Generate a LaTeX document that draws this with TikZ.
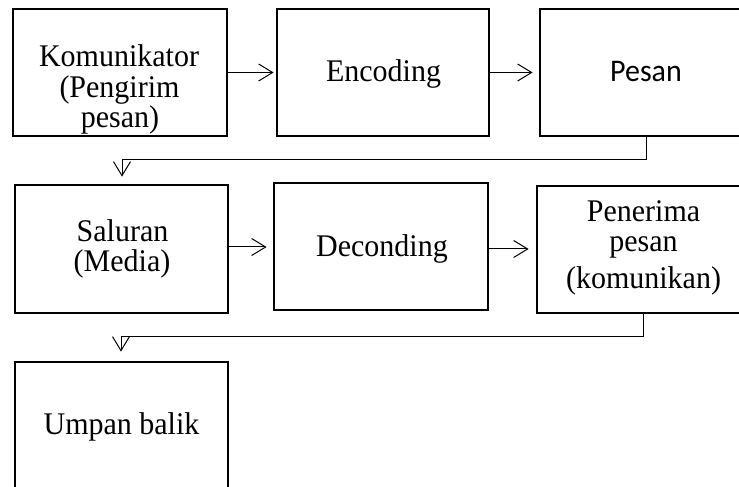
\documentclass[tikz,border=0pt]{standalone}
\usepackage{fontspec}
\setmainfont{Liberation Serif}
\newfontfamily\calfont{Carlito}
\usetikzlibrary{arrows.meta}
\newcommand{\vstr}[1]{\scalebox{1}[1.05]{#1}}
\begin{document}
\begin{tikzpicture}[x=1pt,y=1pt,
  box/.style={draw, line width=2.8pt, rectangle, inner sep=0pt},
  lbl/.style={anchor=base, inner sep=0pt, font=\fontsize{30}{36}\selectfont},
  conn/.style={line width=1pt, -{Straight Barb[length=14pt,width=17pt,line width=1pt]}}]
\useasboundingbox (0,0) rectangle (739,487);
\clip (0,0) rectangle (739,487);
\fill[white] (0,0) rectangle (739,487);
% boxes
\node[box, minimum width=214pt, minimum height=127pt] (b1) at (120,414.5) {};
\node[box, minimum width=212pt, minimum height=127pt] (b2) at (383,414.5) {};
\node[box, minimum width=210pt, minimum height=127pt] (b3) at (645,414.5) {};
\node[box, minimum width=213pt, minimum height=128pt] (b4) at (121.5,238) {};
\node[box, minimum width=214pt, minimum height=127pt] (b5) at (381,240.5) {};
\node[box, minimum width=213pt, minimum height=127pt] (b6) at (643.5,237.5) {};
\node[box, minimum width=213pt, minimum height=140pt] (b7) at (121.5,55) {};
% labels
\node[lbl] (t1a) at (119,420.5) {\vstr{Komunikator}};
\node[lbl] (t1b) at (119.5,389.5) {\vstr{(Pengirim}};
\node[lbl] (t1c) at (120,359) {\vstr{pesan)}};
\node[lbl] (t2) at (383.5,405) {\vstr{Encoding}};
\node[lbl, font=\calfont\fontsize{30}{36}\selectfont] (t3) at (646,405) {\vstr{Pesan}};
\node[lbl] (t4a) at (122.5,245) {\vstr{Saluran}};
\node[lbl] (t4b) at (122,215) {\vstr{(Media)}};
\node[lbl] (t5) at (382,230.5) {\vstr{Deconding}};
\node[lbl] (t6a) at (643.5,265) {\vstr{Penerima}};
\node[lbl] (t6b) at (643.5,235) {\vstr{pesan}};
\node[lbl] (t6c) at (643.5,198) {\vstr{(komunikan)}};
\node[lbl] (t7) at (121.5,52) {\vstr{Umpan balik}};
% connectors
\coordinate (c3) at (646,327);
\coordinate (c6) at (643,150);
\draw[conn, shorten >=2pt] (b1.east) -- (b2.west);
\draw[conn, shorten >=6pt] (b2.east) -- (b3.west);
\draw[conn, shorten >=7pt] (c3 |- b3.south) -- (c3) -- (c3 -| 122,0) -- (122,0 |- b4.north);
\draw[conn, shorten >=6pt] ([yshift=2pt]b4.east) -- ([yshift=2pt]b4.east -| b5.west);
\draw[conn, shorten >=7pt] ([yshift=-2.5pt]b5.east) -- ([yshift=-2.5pt]b5.east -| b6.west);
\draw[conn, shorten >=9pt] (c6 |- b6.south) -- (c6) -- (c6 -| 121,0) -- (121,0 |- b7.north);
\end{tikzpicture}
\end{document}
